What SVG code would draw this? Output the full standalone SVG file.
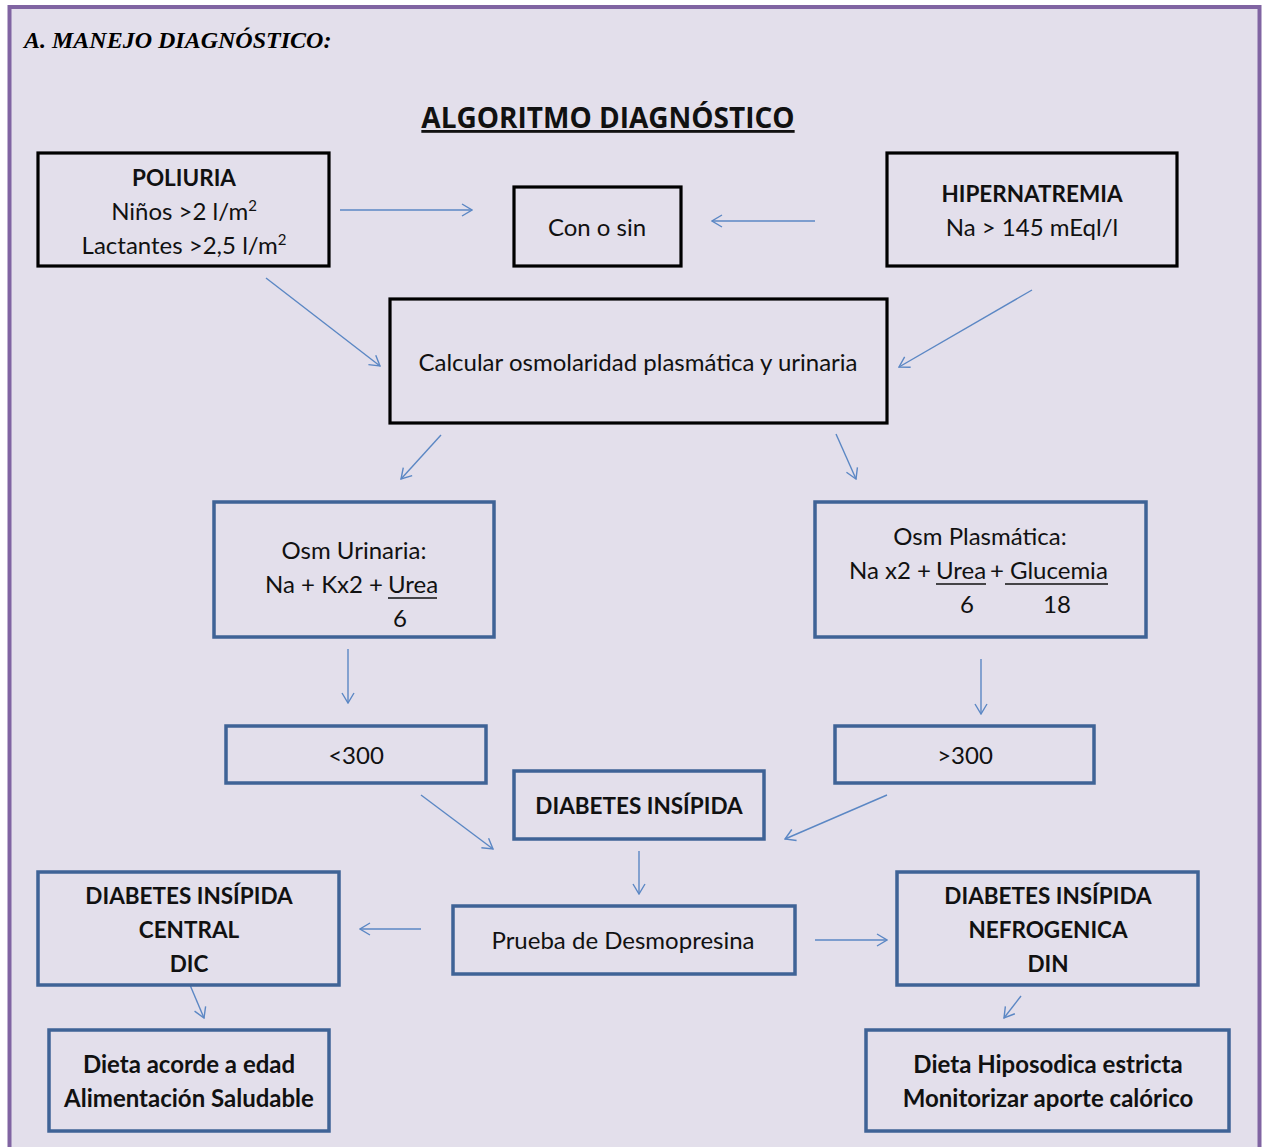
<svg xmlns="http://www.w3.org/2000/svg" width="1262" height="1147" viewBox="0 0 1262 1147">
<style>
.t{font-family:Lato,"Open Sans","Liberation Sans",sans-serif;font-size:24px;fill:#111;text-anchor:middle}
.b{font-weight:bold;font-size:22.5px}
.bm{font-weight:bold;font-size:24px}
.s{text-anchor:start}
.e{text-anchor:end}
.kb{fill:none;stroke:#000;stroke-width:3.2}
.bb{fill:none;stroke:#3f6396;stroke-width:3.5}
.c line{stroke:#5b87c4;stroke-width:1.4;marker-end:url(#ah)}
.ul{stroke:#111;stroke-width:1.6}
</style>
<defs>
<marker id="ah" viewBox="0 0 12 14" refX="11" refY="7" markerWidth="12" markerHeight="14" markerUnits="userSpaceOnUse" orient="auto">
<path d="M1,1 L11,7 L1,13" fill="none" stroke="#5b87c4" stroke-width="1.4"/>
</marker>
</defs>
<rect x="0" y="0" width="1262" height="1147" fill="#fff"/>
<rect x="9.5" y="7" width="1250" height="1150" fill="#e3dfeb" stroke="#8064a2" stroke-width="4"/>
<text x="24" y="48" font-family="Liberation Serif,serif" font-size="24" font-weight="bold" font-style="italic" fill="#000">A. MANEJO DIAGNÓSTICO:</text>
<g id="title">
<text x="608" y="128" font-family="'Open Sans',Lato,sans-serif" font-size="28" font-weight="bold" fill="#111" text-anchor="middle" text-decoration="underline">ALGORITMO DIAGNÓSTICO</text>
</g>
<g class="c" id="connectors">
<line x1="340" y1="210" x2="472" y2="210"/>
<line x1="815" y1="221" x2="712" y2="221"/>
<line x1="266" y1="278" x2="380" y2="366"/>
<line x1="1032" y1="290" x2="899" y2="367"/>
<line x1="441" y1="435" x2="401" y2="479"/>
<line x1="836" y1="434" x2="856" y2="479"/>
<line x1="348" y1="649" x2="348" y2="703"/>
<line x1="981" y1="659" x2="981" y2="714"/>
<line x1="421" y1="795" x2="493" y2="849"/>
<line x1="887" y1="795" x2="785" y2="839"/>
<line x1="639" y1="851" x2="639" y2="894"/>
<line x1="421" y1="929" x2="360" y2="929"/>
<line x1="815" y1="940" x2="887" y2="940"/>
<line x1="190" y1="985" x2="204" y2="1018"/>
<line x1="1021" y1="996" x2="1004" y2="1018"/>
</g>
<g id="poliuria">
<rect class="kb" x="38" y="153" width="291" height="113"/>
<text class="t b" x="184" y="186">POLIURIA</text>
<text class="t" x="184" y="220">Niños &gt;2 l/m<tspan font-size="15" dy="-9">2</tspan></text>
<text class="t" x="184" y="254">Lactantes &gt;2,5 l/m<tspan font-size="15" dy="-9">2</tspan></text>
</g>
<g id="conosin">
<rect class="kb" x="514" y="187" width="167" height="79"/>
<text class="t" x="597" y="236">Con o sin</text>
</g>
<g id="hipernatremia">
<rect class="kb" x="887" y="153" width="290" height="113"/>
<text class="t b" x="1032" y="202">HIPERNATREMIA</text>
<text class="t" x="1032" y="236">Na &gt; 145 mEql/l</text>
</g>
<g id="calcular">
<rect class="kb" x="390" y="299" width="497" height="124"/>
<text class="t" x="638" y="371">Calcular osmolaridad plasmática y urinaria</text>
</g>
<g id="osmurinaria">
<rect class="bb" x="214" y="502" width="280" height="135"/>
<text class="t" x="354" y="559">Osm Urinaria:</text>
<text class="t e" x="383" y="593">Na + Kx2 +</text>
<text class="t s" x="388" y="593">Urea</text>
<line class="ul" x1="388" y1="598" x2="437" y2="598"/>
<text class="t" x="400" y="627">6</text>
</g>
<g id="osmplasmatica">
<rect class="bb" x="815" y="502" width="331" height="135"/>
<text class="t" x="980" y="545">Osm Plasmática:</text>
<text class="t e" x="931" y="579">Na x2 +</text>
<text class="t s" x="936" y="579">Urea</text>
<line class="ul" x1="936" y1="584" x2="986" y2="584"/>
<text class="t" x="997" y="579">+</text>
<text class="t s" x="1010" y="579">Glucemia</text>
<line class="ul" x1="1005" y1="584" x2="1108" y2="584"/>
<text class="t" x="967" y="613">6</text>
<text class="t" x="1057" y="613">18</text>
</g>
<g id="menor300">
<rect class="bb" x="226" y="726" width="260" height="57"/>
<text class="t" x="356" y="764">&lt;300</text>
</g>
<g id="mayor300">
<rect class="bb" x="835" y="726" width="259" height="57"/>
<text class="t" x="965" y="764">&gt;300</text>
</g>
<g id="diabetes">
<rect class="bb" x="514" y="771" width="250" height="68"/>
<text class="t b" x="639" y="814">DIABETES INSÍPIDA</text>
</g>
<g id="prueba">
<rect class="bb" x="453" y="906" width="342" height="68"/>
<text class="t" x="623" y="949">Prueba de Desmopresina</text>
</g>
<g id="dic">
<rect class="bb" x="38" y="872" width="301" height="113"/>
<text class="t b" x="189" y="904">DIABETES INSÍPIDA</text>
<text class="t b" x="189" y="938">CENTRAL</text>
<text class="t b" x="189" y="972">DIC</text>
</g>
<g id="din">
<rect class="bb" x="897" y="872" width="301" height="113"/>
<text class="t b" x="1048" y="904">DIABETES INSÍPIDA</text>
<text class="t b" x="1048" y="938">NEFROGENICA</text>
<text class="t b" x="1048" y="972">DIN</text>
</g>
<g id="dieta1">
<rect class="bb" x="49" y="1030" width="280" height="101"/>
<text class="t bm" x="189" y="1073">Dieta acorde a edad</text>
<text class="t bm" x="189" y="1107">Alimentación Saludable</text>
</g>
<g id="dieta2">
<rect class="bb" x="866" y="1030" width="363" height="101"/>
<text class="t bm" x="1048" y="1073">Dieta Hiposodica estricta</text>
<text class="t bm" x="1048" y="1107">Monitorizar aporte calórico</text>
</g>
</svg>
